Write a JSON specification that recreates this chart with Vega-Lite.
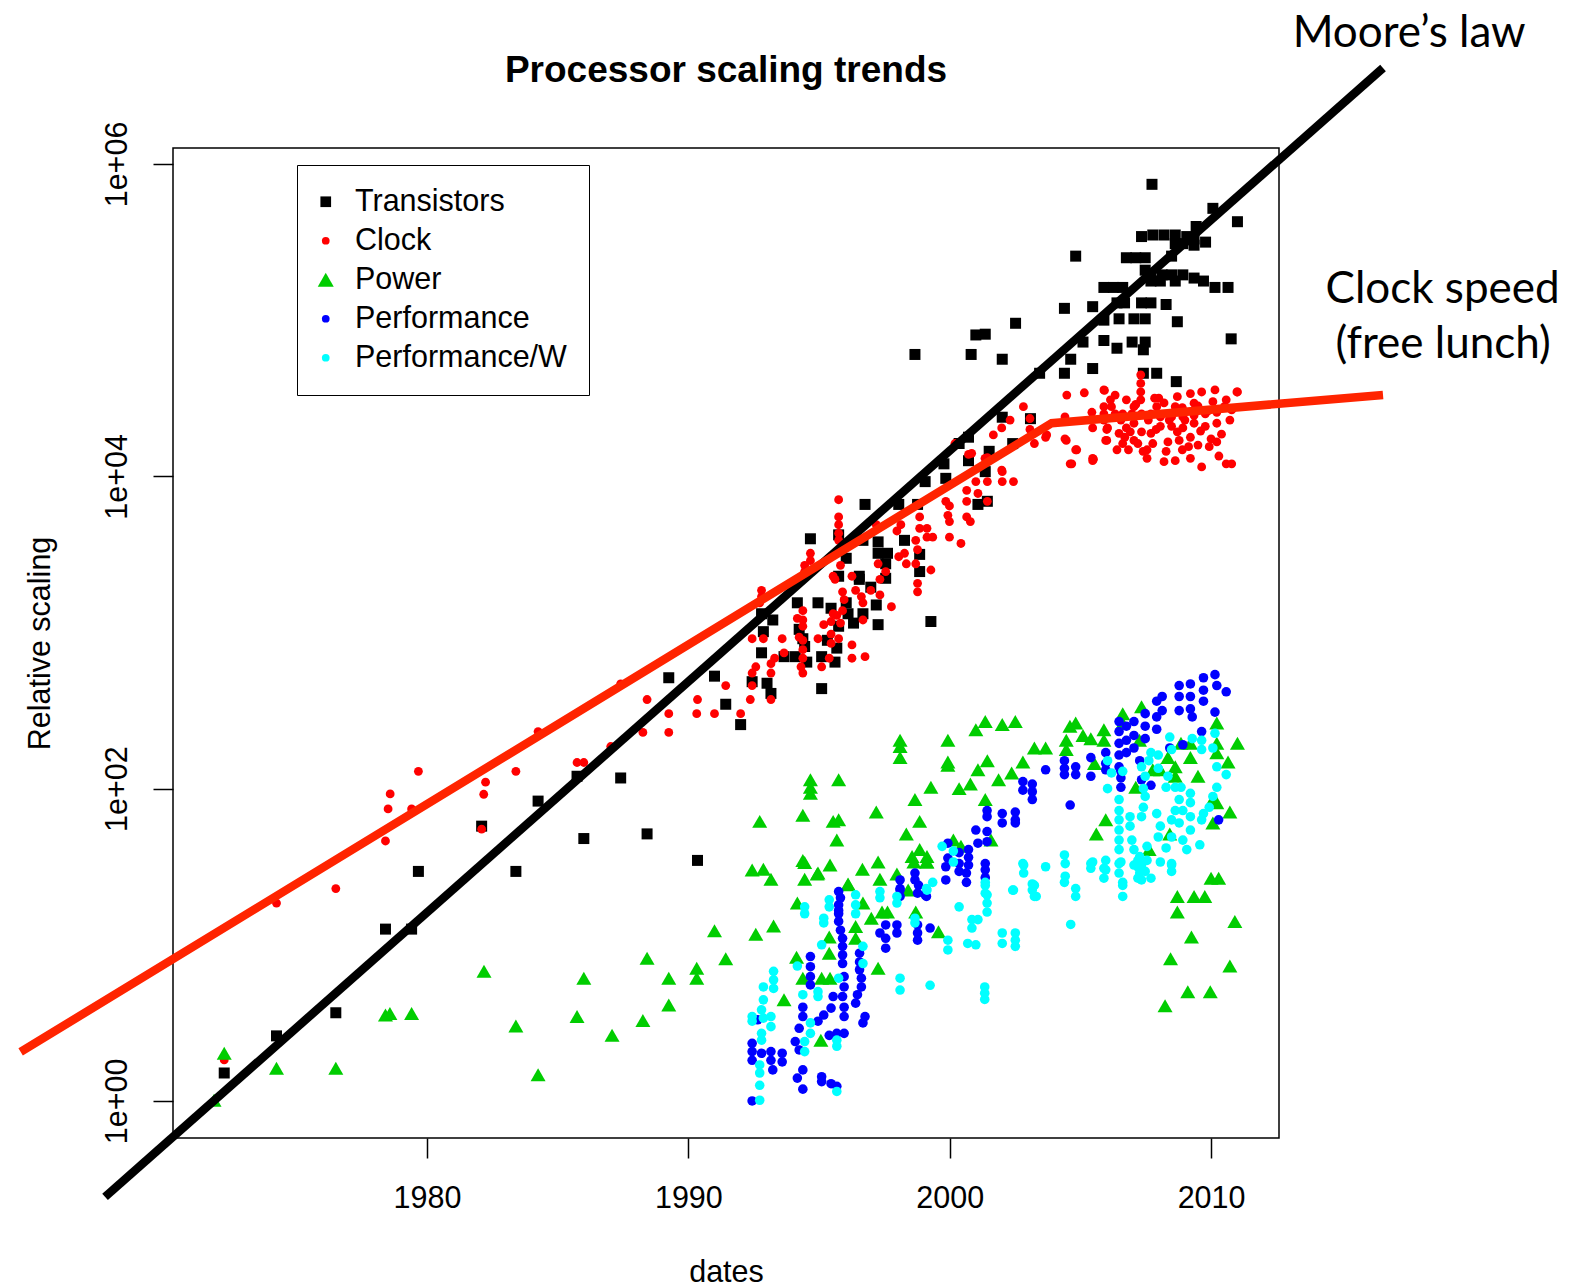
{
"$schema":"https://vega.github.io/schema/vega-lite/v6.json",
"width":1106,"height":990,
"autosize":{"type":"none"},
"padding":{"left":173,"top":148,"right":294,"bottom":149},
"background":"white",
"config":{"view":{"stroke":"black","strokeWidth":1.5},"font":"Liberation Sans"},
"title":{"text":"Processor scaling trends","font":"Liberation Sans","fontSize":37,"fontWeight":"bold","color":"black","anchor":"middle","frame":"group","baseline":"alphabetic","offset":38,"dy":145},
"datasets":{
"moore":[{"x":1967.68,"y":0.243},{"x":2016.58,"y":4120000}],
"clockline":[{"x":1964.45,"y":2.06},{"x":2003.9,"y":21900},{"x":2016.58,"y":33200}],
"notes":[{"x":2017.58,"y":5610000,"label":"Moore’s law"},{"x":2018.86,"y":128200,"label":"Clock speed"},{"x":2018.88,"y":57000,"label":"(free lunch)"}],
"points":[
{"series":"Transistors","x":1972.24,"y":1.51},{"series":"Transistors","x":1974.24,"y":2.61},{"series":"Transistors","x":1976.51,"y":3.67},{"series":"Transistors","x":1978.41,"y":12.6},{"series":"Transistors","x":1979.41,"y":12.6},{"series":"Transistors","x":1979.67,"y":29.5},{"series":"Transistors","x":1982.09,"y":57.5},{"series":"Transistors","x":1983.4,"y":29.5},{"series":"Transistors","x":1984.25,"y":83.2},{"series":"Transistors","x":1986.0,"y":47.9},{"series":"Transistors","x":1985.74,"y":120},{"series":"Transistors","x":1987.41,"y":117},{"series":"Transistors","x":1988.42,"y":51.3},{"series":"Transistors","x":1989.25,"y":513},{"series":"Transistors","x":1990.35,"y":34.7},{"series":"Transistors","x":1991.0,"y":525},{"series":"Transistors","x":1991.43,"y":347},{"series":"Transistors","x":1992.0,"y":257},{"series":"Transistors","x":1992.44,"y":484},{"series":"Transistors","x":1993.01,"y":473},{"series":"Transistors","x":1993.16,"y":407},{"series":"Transistors","x":1995.1,"y":437},{"series":"Transistors","x":1992.8,"y":1318},{"series":"Transistors","x":1993.23,"y":1202},{"series":"Transistors","x":1992.87,"y":1012},{"series":"Transistors","x":1992.8,"y":741},{"series":"Transistors","x":1993.66,"y":700},{"series":"Transistors","x":1994.17,"y":1549},{"series":"Transistors","x":1994.96,"y":1549},{"series":"Transistors","x":1995.46,"y":1429},{"series":"Transistors","x":1996.04,"y":1549},{"series":"Transistors","x":1996.11,"y":1318},{"series":"Transistors","x":1995.75,"y":1096},{"series":"Transistors","x":1994.24,"y":1047},{"series":"Transistors","x":1994.38,"y":912},{"series":"Transistors","x":1994.45,"y":813},{"series":"Transistors","x":1994.09,"y":700},{"series":"Transistors","x":1994.53,"y":646},{"series":"Transistors","x":1995.1,"y":700},{"series":"Transistors","x":1995.61,"y":646},{"series":"Transistors","x":1995.68,"y":794},{"series":"Transistors","x":1995.32,"y":891},{"series":"Transistors","x":1994.67,"y":3981},{"series":"Transistors","x":1996.76,"y":6607},{"series":"Transistors","x":1998.05,"y":6607},{"series":"Transistors","x":1998.77,"y":6607},{"series":"Transistors","x":1999.06,"y":9247},{"series":"Transistors","x":1999.85,"y":9705},{"series":"Transistors","x":1999.78,"y":12020},{"series":"Transistors","x":2000.36,"y":16218},{"series":"Transistors","x":2000.72,"y":12589},{"series":"Transistors","x":2001.51,"y":14454},{"series":"Transistors","x":2001.08,"y":6607},{"series":"Transistors","x":2001.44,"y":6918},{"series":"Transistors","x":2001.36,"y":10715},{"series":"Transistors","x":1995.75,"y":4217},{"series":"Transistors","x":1996.68,"y":3890},{"series":"Transistors","x":1997.26,"y":3802},{"series":"Transistors","x":1997.26,"y":3214},{"series":"Transistors","x":1997.62,"y":3214},{"series":"Transistors","x":1997.55,"y":2754},{"series":"Transistors","x":1998.27,"y":3890},{"series":"Transistors","x":1998.85,"y":3162},{"series":"Transistors","x":1998.85,"y":2455},{"series":"Transistors","x":1997.55,"y":2223},{"series":"Transistors","x":1996.04,"y":2985},{"series":"Transistors","x":1995.75,"y":2291},{"series":"Transistors","x":1996.54,"y":2291},{"series":"Transistors","x":1996.54,"y":2188},{"series":"Transistors","x":1996.98,"y":1950},{"series":"Transistors","x":1997.19,"y":1500},{"series":"Transistors","x":1997.26,"y":1122},{"series":"Transistors","x":1999.28,"y":1175},{"series":"Transistors","x":1996.68,"y":1318},{"series":"Transistors","x":1996.32,"y":1148},
{"series":"Transistors","x":2007.74,"y":741000},{"series":"Transistors","x":2010.07,"y":520000},{"series":"Transistors","x":2011.01,"y":427000},{"series":"Transistors","x":2009.43,"y":398000},{"series":"Transistors","x":2009.35,"y":331000},{"series":"Transistors","x":2009.79,"y":316000},{"series":"Transistors","x":2007.34,"y":343000},{"series":"Transistors","x":2007.77,"y":351000},{"series":"Transistors","x":2008.2,"y":351000},{"series":"Transistors","x":2008.63,"y":351000},{"series":"Transistors","x":2009.07,"y":343000},{"series":"Transistors","x":2008.63,"y":309000},{"series":"Transistors","x":2008.92,"y":309000},{"series":"Transistors","x":2009.35,"y":302000},{"series":"Transistors","x":2004.82,"y":257000},{"series":"Transistors","x":2006.76,"y":251000},{"series":"Transistors","x":2007.12,"y":251000},{"series":"Transistors","x":2007.48,"y":251000},{"series":"Transistors","x":2008.49,"y":257000},{"series":"Transistors","x":2007.48,"y":209000},{"series":"Transistors","x":2007.7,"y":190500},{"series":"Transistors","x":2008.13,"y":195000},{"series":"Transistors","x":2008.49,"y":195000},{"series":"Transistors","x":2008.92,"y":195000},{"series":"Transistors","x":2009.35,"y":186000},{"series":"Transistors","x":2009.71,"y":178000},{"series":"Transistors","x":2010.15,"y":162000},{"series":"Transistors","x":2010.65,"y":162000},{"series":"Transistors","x":2005.9,"y":162000},{"series":"Transistors","x":2006.26,"y":162000},{"series":"Transistors","x":2006.62,"y":162000},{"series":"Transistors","x":2007.7,"y":178000},{"series":"Transistors","x":2008.06,"y":178000},{"series":"Transistors","x":2008.63,"y":178000},{"series":"Transistors","x":2004.39,"y":119000},{"series":"Transistors","x":2005.47,"y":122000},{"series":"Transistors","x":2006.4,"y":129000},{"series":"Transistors","x":2006.69,"y":129000},{"series":"Transistors","x":2007.34,"y":129000},{"series":"Transistors","x":2007.7,"y":129000},{"series":"Transistors","x":2008.28,"y":126000},{"series":"Transistors","x":2005.9,"y":100000},{"series":"Transistors","x":2006.48,"y":102000},{"series":"Transistors","x":2007.05,"y":102000},{"series":"Transistors","x":2007.48,"y":102000},{"series":"Transistors","x":2008.71,"y":97700},{"series":"Transistors","x":2002.52,"y":95500},{"series":"Transistors","x":2001.0,"y":80400},{"series":"Transistors","x":2001.36,"y":81300},{"series":"Transistors","x":2005.1,"y":72400},{"series":"Transistors","x":2005.9,"y":74100},{"series":"Transistors","x":2006.4,"y":66100},{"series":"Transistors","x":2006.98,"y":72400},{"series":"Transistors","x":2007.48,"y":72400},{"series":"Transistors","x":2007.41,"y":64600},{"series":"Transistors","x":2010.77,"y":75900},{"series":"Transistors","x":1998.67,"y":60300},{"series":"Transistors","x":2000.82,"y":60300},{"series":"Transistors","x":2002.01,"y":56200},{"series":"Transistors","x":2004.63,"y":56200},{"series":"Transistors","x":2005.47,"y":49000},{"series":"Transistors","x":2003.44,"y":45700},{"series":"Transistors","x":2004.39,"y":45700},{"series":"Transistors","x":2007.41,"y":45700},{"series":"Transistors","x":2007.92,"y":45700},{"series":"Transistors","x":2008.67,"y":40400},{"series":"Transistors","x":2003.09,"y":23400},{"series":"Transistors","x":2002.01,"y":23900},{"series":"Transistors","x":2000.72,"y":17800},{"series":"Transistors","x":2002.41,"y":16200},
{"series":"Clock","x":1972.24,"y":1.83},{"series":"Clock","x":1974.24,"y":18.5},{"series":"Clock","x":1976.51,"y":22.9},{"series":"Clock","x":1978.41,"y":46.2},{"series":"Clock","x":1978.51,"y":74.1},{"series":"Clock","x":1978.59,"y":92.5},{"series":"Clock","x":1979.41,"y":74.1},{"series":"Clock","x":1979.67,"y":129},{"series":"Clock","x":1982.09,"y":55},{"series":"Clock","x":1982.17,"y":92},{"series":"Clock","x":1982.24,"y":110},{"series":"Clock","x":1983.4,"y":129},{"series":"Clock","x":1984.25,"y":232},{"series":"Clock","x":1985.74,"y":147},{"series":"Clock","x":1986.0,"y":147},{"series":"Clock","x":1987.03,"y":186},{"series":"Clock","x":1987.41,"y":468},{"series":"Clock","x":1988.26,"y":229},{"series":"Clock","x":1988.42,"y":372},{"series":"Clock","x":1989.25,"y":302},{"series":"Clock","x":1989.25,"y":229},{"series":"Clock","x":1990.35,"y":372},{"series":"Clock","x":1990.32,"y":302},{"series":"Clock","x":1991.0,"y":302},{"series":"Clock","x":1991.43,"y":457},{"series":"Clock","x":1992.0,"y":302},{"series":"Clock","x":1992.37,"y":372},{"series":"Clock","x":1993.16,"y":372},{"series":"Clock","x":1992.44,"y":550},{"series":"Clock","x":1993.16,"y":550},{"series":"Clock","x":1994.38,"y":550},{"series":"Clock","x":1995.1,"y":603},
{"series":"Clock","x":1995.75,"y":7079},{"series":"Clock","x":1995.75,"y":5495},{"series":"Clock","x":1995.75,"y":4898},{"series":"Clock","x":1995.75,"y":4315},{"series":"Clock","x":1995.75,"y":3890},{"series":"Clock","x":1994.67,"y":3214},{"series":"Clock","x":1994.67,"y":2884},{"series":"Clock","x":1994.45,"y":2692},{"series":"Clock","x":1994.45,"y":2455},{"series":"Clock","x":1992.8,"y":1862},{"series":"Clock","x":1992.8,"y":1698},{"series":"Clock","x":1992.73,"y":1549},{"series":"Clock","x":1992.44,"y":912},{"series":"Clock","x":1992.87,"y":912},{"series":"Clock","x":1993.59,"y":912},{"series":"Clock","x":1992.44,"y":457},{"series":"Clock","x":1992.58,"y":603},{"series":"Clock","x":1993.16,"y":631},{"series":"Clock","x":1993.3,"y":684},{"series":"Clock","x":1993.66,"y":741},
{"series":"Clock","x":1994.38,"y":1380},{"series":"Clock","x":1994.38,"y":1202},{"series":"Clock","x":1994.17,"y":1230},{"series":"Clock","x":1994.38,"y":1096},{"series":"Clock","x":1994.24,"y":933},{"series":"Clock","x":1994.38,"y":891},{"series":"Clock","x":1994.38,"y":776},{"series":"Clock","x":1994.38,"y":684},{"series":"Clock","x":1994.31,"y":603},{"series":"Clock","x":1994.96,"y":912},{"series":"Clock","x":1995.18,"y":1122},{"series":"Clock","x":1995.46,"y":1175},{"series":"Clock","x":1995.54,"y":1318},{"series":"Clock","x":1995.46,"y":977},{"series":"Clock","x":1995.46,"y":851},{"series":"Clock","x":1995.39,"y":684},{"series":"Clock","x":1995.75,"y":912},{"series":"Clock","x":1995.54,"y":2291},{"series":"Clock","x":1995.61,"y":2188},{"series":"Clock","x":1995.82,"y":2692},{"series":"Clock","x":1995.9,"y":1820},{"series":"Clock","x":1995.96,"y":1622},{"series":"Clock","x":1995.9,"y":1380},{"series":"Clock","x":1995.68,"y":1288},{"series":"Clock","x":1995.82,"y":1148},{"series":"Clock","x":1996.26,"y":2291},{"series":"Clock","x":1996.4,"y":1862},{"series":"Clock","x":1996.62,"y":1698},{"series":"Clock","x":1996.68,"y":1549},{"series":"Clock","x":1996.68,"y":1202},{"series":"Clock","x":1996.26,"y":832},{"series":"Clock","x":1996.26,"y":684},{"series":"Clock","x":1996.76,"y":700},{"series":"Clock","x":1996.98,"y":1862},{"series":"Clock","x":1997.33,"y":2188},{"series":"Clock","x":1997.33,"y":1738},{"series":"Clock","x":1997.77,"y":1462},{"series":"Clock","x":1997.55,"y":2455},{"series":"Clock","x":1997.26,"y":2754},{"series":"Clock","x":1998.05,"y":3055},{"series":"Clock","x":1998.27,"y":3214},{"series":"Clock","x":1998.34,"y":2754},{"series":"Clock","x":1998.7,"y":2754},{"series":"Clock","x":1998.77,"y":3388},{"series":"Clock","x":1998.7,"y":3890},{"series":"Clock","x":1999.28,"y":2512},{"series":"Clock","x":1998.77,"y":2065},{"series":"Clock","x":1998.77,"y":1820},{"series":"Clock","x":1997.98,"y":4467},{"series":"Clock","x":1998.13,"y":4898},{"series":"Clock","x":1998.85,"y":4645},{"series":"Clock","x":1999.13,"y":4645},{"series":"Clock","x":1999.13,"y":4074},{"series":"Clock","x":1999.35,"y":4074},{"series":"Clock","x":1998.85,"y":5495},{"series":"Clock","x":1997.19,"y":4898},{"series":"Clock","x":1999.85,"y":6918},{"series":"Clock","x":1999.99,"y":6457},{"series":"Clock","x":1999.93,"y":5623},{"series":"Clock","x":1999.99,"y":5129},{"series":"Clock","x":1999.99,"y":4074},{"series":"Clock","x":2000.43,"y":3715},{"series":"Clock","x":2000.65,"y":5495},{"series":"Clock","x":2000.79,"y":5129},{"series":"Clock","x":2000.65,"y":6918},{"series":"Clock","x":2000.65,"y":8128},{"series":"Clock","x":2001.08,"y":7762},{"series":"Clock","x":2001.44,"y":6918},{"series":"Clock","x":2001.0,"y":9247},{"series":"Clock","x":2001.44,"y":9247},{"series":"Clock","x":2002.01,"y":9247},{"series":"Clock","x":2002.44,"y":9247},{"series":"Clock","x":2002.01,"y":10715},{"series":"Clock","x":2000.72,"y":13804},{"series":"Clock","x":2001.44,"y":13183},{"series":"Clock","x":2003.24,"y":16218},{"series":"Clock","x":2004.46,"y":16982},{"series":"Clock","x":2004.82,"y":14791},{"series":"Clock","x":2005.47,"y":12589},{"series":"Clock","x":2004.61,"y":12023},
{"series":"Clock","x":2004.48,"y":33113},{"series":"Clock","x":2005.15,"y":34277},{"series":"Clock","x":2005.92,"y":35481},{"series":"Clock","x":2007.31,"y":44668},{"series":"Clock","x":2007.31,"y":39355},{"series":"Clock","x":2007.31,"y":34674},{"series":"Clock","x":2007.31,"y":30903},{"series":"Clock","x":2010.99,"y":34674},{"series":"Clock","x":2002.82,"y":27925},{"series":"Clock","x":2002.31,"y":22909},{"series":"Clock","x":2001.99,"y":20417},{"series":"Clock","x":2001.67,"y":18408},{"series":"Clock","x":2003.07,"y":23442},{"series":"Clock","x":2003.07,"y":19953},{"series":"Clock","x":2003.71,"y":18408},{"series":"Clock","x":2004.41,"y":23988},{"series":"Clock","x":2004.41,"y":17378},{"series":"Clock","x":2000.84,"y":14028},{"series":"Clock","x":2001.35,"y":13032},{"series":"Clock","x":2001.99,"y":10965},{"series":"Clock","x":2000.2,"y":16218},{"series":"Clock","x":2004.86,"y":14791},{"series":"Clock","x":2005.5,"y":12882},{"series":"Clock","x":2006.01,"y":19953},{"series":"Clock","x":2006.01,"y":16982},{"series":"Clock","x":2005.44,"y":25704},{"series":"Clock","x":2004.67,"y":12023},
{"series":"Clock","x":2005.9,"y":35727},{"series":"Clock","x":2006.33,"y":33113},{"series":"Clock","x":2006.76,"y":30903},{"series":"Clock","x":2007.12,"y":28840},{"series":"Clock","x":2007.84,"y":31623},{"series":"Clock","x":2008.2,"y":29512},{"series":"Clock","x":2008.71,"y":32359},{"series":"Clock","x":2009.21,"y":33884},{"series":"Clock","x":2009.64,"y":34674},{"series":"Clock","x":2010.15,"y":35727},{"series":"Clock","x":2011.01,"y":34674},{"series":"Clock","x":2010.58,"y":30903},{"series":"Clock","x":2010.79,"y":26607},{"series":"Clock","x":2010.72,"y":22909},{"series":"Clock","x":2010.22,"y":16596},{"series":"Clock","x":2009.93,"y":15488},{"series":"Clock","x":2009.14,"y":15488},{"series":"Clock","x":2008.71,"y":19275},{"series":"Clock","x":2008.35,"y":16596},{"series":"Clock","x":2008.28,"y":14454},{"series":"Clock","x":2008.63,"y":12589},{"series":"Clock","x":2008.2,"y":12417},{"series":"Clock","x":2007.55,"y":13032},{"series":"Clock","x":2007.55,"y":14791},{"series":"Clock","x":2006.84,"y":14791},{"series":"Clock","x":2006.4,"y":14791},{"series":"Clock","x":2005.97,"y":16982},{"series":"Clock","x":2005.47,"y":20417},{"series":"Clock","x":2006.04,"y":20417},{"series":"Clock","x":2006.76,"y":20417},{"series":"Clock","x":2007.05,"y":21878},{"series":"Clock","x":2007.7,"y":18836},{"series":"Clock","x":2007.05,"y":16982},{"series":"Clock","x":2010.79,"y":12023},{"series":"Clock","x":2010.58,"y":12023},{"series":"Clock","x":2009.21,"y":13032},{"series":"Clock","x":2009.64,"y":11482},{"series":"Clock","x":2005.47,"y":13032},{"series":"Clock","x":2005.9,"y":27925},{"series":"Clock","x":2005.9,"y":25119},{"series":"Clock","x":2005.9,"y":22909},
{"series":"Clock","x":2006.33,"y":25119},{"series":"Clock","x":2006.62,"y":25119},{"series":"Clock","x":2006.97,"y":25119},{"series":"Clock","x":2007.34,"y":25119},{"series":"Clock","x":2007.7,"y":25119},{"series":"Clock","x":2008.06,"y":23988},{"series":"Clock","x":2008.49,"y":23988},{"series":"Clock","x":2008.92,"y":23988},{"series":"Clock","x":2009.35,"y":24547},{"series":"Clock","x":2009.78,"y":25119},{"series":"Clock","x":2010.22,"y":25704},
{"series":"Clock","x":2006.48,"y":18836},{"series":"Clock","x":2006.91,"y":19275},{"series":"Clock","x":2007.34,"y":19275},{"series":"Clock","x":2008.06,"y":20893},{"series":"Clock","x":2008.49,"y":20893},{"series":"Clock","x":2008.92,"y":20417},{"series":"Clock","x":2009.35,"y":21878},{"series":"Clock","x":2009.78,"y":20893},{"series":"Clock","x":2010.22,"y":21878},
{"series":"Clock","x":2006.62,"y":16218},{"series":"Clock","x":2007.2,"y":16218},{"series":"Clock","x":2007.77,"y":16218},{"series":"Clock","x":2008.78,"y":16982},{"series":"Clock","x":2009.21,"y":17783},{"series":"Clock","x":2010.0,"y":17378},
{"series":"Clock","x":2006.19,"y":27925},{"series":"Clock","x":2007.05,"y":27925},{"series":"Clock","x":2007.92,"y":27925},{"series":"Clock","x":2008.63,"y":27925},{"series":"Clock","x":2009.35,"y":29376},{"series":"Clock","x":2010.07,"y":30061},{"series":"Clock","x":2010.51,"y":27925},
{"series":"Clock","x":2006.15,"y":30903},{"series":"Clock","x":2006.55,"y":22909},{"series":"Clock","x":2007.6,"y":22909},{"series":"Clock","x":2008.4,"y":22909},{"series":"Clock","x":2009.0,"y":22909},{"series":"Clock","x":2009.5,"y":28184},{"series":"Clock","x":2009.9,"y":26303},{"series":"Clock","x":2008.0,"y":31623},{"series":"Clock","x":2008.9,"y":27542},{"series":"Clock","x":2007.9,"y":19953},{"series":"Clock","x":2009.6,"y":19498},{"series":"Clock","x":2010.4,"y":18621},{"series":"Clock","x":2006.7,"y":17783},{"series":"Clock","x":2007.4,"y":14454},{"series":"Clock","x":2008.9,"y":14791},{"series":"Clock","x":2009.5,"y":15849},{"series":"Clock","x":2010.3,"y":13490},{"series":"Clock","x":2003.67,"y":17783},
{"series":"Power","x":1971.85,"y":1.01},{"series":"Power","x":1972.24,"y":2.02},{"series":"Power","x":1974.24,"y":1.62},{"series":"Power","x":1976.51,"y":1.62},{"series":"Power","x":1978.41,"y":3.55},{"series":"Power","x":1978.58,"y":3.63},{"series":"Power","x":1979.41,"y":3.63},{"series":"Power","x":1982.18,"y":6.76},{"series":"Power","x":1983.4,"y":3.02},{"series":"Power","x":1984.25,"y":1.47},{"series":"Power","x":1986.0,"y":6.11},{"series":"Power","x":1985.74,"y":3.47},{"series":"Power","x":1987.08,"y":2.63},{"series":"Power","x":1988.26,"y":3.27},{"series":"Power","x":1988.42,"y":8.2},{"series":"Power","x":1989.25,"y":6.11},{"series":"Power","x":1989.25,"y":4.12},{"series":"Power","x":1990.32,"y":7.08},{"series":"Power","x":1990.32,"y":6.11},
{"series":"Power","x":1992.44,"y":30.1},{"series":"Power","x":1992.87,"y":30.5},{"series":"Power","x":1993.16,"y":26.3},{"series":"Power","x":1994.45,"y":33.6},{"series":"Power","x":1994.45,"y":26.3},{"series":"Power","x":1994.93,"y":28.4},{"series":"Power","x":1995.42,"y":32.4},{"series":"Power","x":1996.66,"y":30.5},{"series":"Power","x":1997.26,"y":33.9},{"series":"Power","x":1997.33,"y":26.3},{"series":"Power","x":1996.11,"y":24.2},{"series":"Power","x":1997.98,"y":28.4},{"series":"Power","x":1998.63,"y":33.9},{"series":"Power","x":1999.11,"y":33.9},{"series":"Power","x":1991.0,"y":12.3},{"series":"Power","x":1992.58,"y":11.7},{"series":"Power","x":1993.26,"y":13.2},{"series":"Power","x":1991.43,"y":8.13},{"series":"Power","x":1994.17,"y":18.5},{"series":"Power","x":1994.14,"y":8.32},{"series":"Power","x":1993.66,"y":4.44},{"series":"Power","x":1994.38,"y":6.11},{"series":"Power","x":1995.1,"y":6.11},{"series":"Power","x":1995.42,"y":6.11},{"series":"Power","x":1995.07,"y":2.45},{"series":"Power","x":1996.68,"y":18.5},{"series":"Power","x":1997.0,"y":14.8},{"series":"Power","x":1996.4,"y":13.1},{"series":"Power","x":1996.4,"y":11.0},{"series":"Power","x":1995.39,"y":11.2},{"series":"Power","x":1995.39,"y":8.83},{"series":"Power","x":1997.26,"y":7.08},{"series":"Power","x":1997.41,"y":16.2},{"series":"Power","x":1997.62,"y":16.2},{"series":"Power","x":1998.7,"y":16.2},{"series":"Power","x":1999.57,"y":12.1},{"series":"Power","x":1998.41,"y":22.4},{"series":"Power","x":2010.0,"y":26.7},{"series":"Power","x":2010.29,"y":26.7},{"series":"Power","x":2008.71,"y":20.4},{"series":"Power","x":2009.35,"y":20.4},{"series":"Power","x":2009.76,"y":20.4},{"series":"Power","x":2008.71,"y":16.2},{"series":"Power","x":2010.91,"y":14.1},{"series":"Power","x":2009.25,"y":11.2},{"series":"Power","x":2008.45,"y":8.13},{"series":"Power","x":2010.72,"y":7.31},{"series":"Power","x":2009.11,"y":5.01},{"series":"Power","x":2009.97,"y":5.01},{"series":"Power","x":2008.24,"y":4.07},
{"series":"Power","x":1998.1,"y":204},{"series":"Power","x":1998.1,"y":186},{"series":"Power","x":1998.1,"y":158},{"series":"Power","x":1999.93,"y":204},{"series":"Power","x":1999.93,"y":148},{"series":"Power","x":1999.93,"y":141},{"series":"Power","x":2001.36,"y":269},{"series":"Power","x":2001.0,"y":238},{"series":"Power","x":2002.01,"y":257},{"series":"Power","x":2002.51,"y":269},{"series":"Power","x":1994.67,"y":114},{"series":"Power","x":1994.67,"y":102},{"series":"Power","x":1994.67,"y":93.3},{"series":"Power","x":1995.75,"y":114},{"series":"Power","x":1992.73,"y":61.7},{"series":"Power","x":1994.38,"y":67.6},{"series":"Power","x":1995.54,"y":61.7},{"series":"Power","x":1995.75,"y":63.1},{"series":"Power","x":1995.68,"y":46.8},{"series":"Power","x":1997.19,"y":70.8},{"series":"Power","x":1998.85,"y":61.7},{"series":"Power","x":1998.34,"y":51.3},{"series":"Power","x":1998.67,"y":85.1},{"series":"Power","x":1999.28,"y":102},{"series":"Power","x":2000.36,"y":100},{"series":"Power","x":2000.79,"y":107},{"series":"Power","x":2001.44,"y":151},{"series":"Power","x":2001.08,"y":132},{"series":"Power","x":2001.87,"y":114},{"series":"Power","x":2002.37,"y":126},{"series":"Power","x":2001.36,"y":85.1},{"series":"Power","x":2002.8,"y":148},{"series":"Power","x":2003.24,"y":182},{"series":"Power","x":2003.67,"y":182},{"series":"Power","x":2004.46,"y":204},{"series":"Power","x":2004.46,"y":178},{"series":"Power","x":2004.6,"y":251},{"series":"Power","x":2004.82,"y":263},{"series":"Power","x":2005.1,"y":219},{"series":"Power","x":2005.4,"y":209},{"series":"Power","x":2005.54,"y":145},{"series":"Power","x":2005.9,"y":238},{"series":"Power","x":2005.9,"y":204},{"series":"Power","x":2006.62,"y":302},{"series":"Power","x":2006.62,"y":263},{"series":"Power","x":2007.34,"y":335},{"series":"Power","x":2007.12,"y":102},{"series":"Power","x":2005.97,"y":63.1},{"series":"Power","x":2005.61,"y":51.3},{"series":"Power","x":2007.63,"y":40.7},{"series":"Power","x":2008.42,"y":51.3},{"series":"Power","x":2010.22,"y":263},{"series":"Power","x":2011.01,"y":195},{"series":"Power","x":2010.65,"y":148},{"series":"Power","x":2010.22,"y":195},{"series":"Power","x":2010.22,"y":170},{"series":"Power","x":2009.21,"y":195},{"series":"Power","x":2009.21,"y":158},{"series":"Power","x":2008.63,"y":138},{"series":"Power","x":2008.63,"y":120},{"series":"Power","x":2010.07,"y":85.1},{"series":"Power","x":2010.22,"y":81.3},{"series":"Power","x":2010.72,"y":70.8},{"series":"Power","x":2010.07,"y":60.3},{"series":"Power","x":2008.85,"y":195},{"series":"Power","x":2007.77,"y":132},{"series":"Power","x":2008.06,"y":132},{"series":"Power","x":2007.26,"y":204},{"series":"Power","x":2008.35,"y":158},{"series":"Power","x":2009.5,"y":120},{"series":"Power","x":1994.38,"y":34.7},{"series":"Power","x":1994.96,"y":28.8},{"series":"Power","x":1998.56,"y":36.7},{"series":"Power","x":1998.85,"y":40.7},{"series":"Power","x":1999.13,"y":36.7},{"series":"Power","x":1999.13,"y":33.9},{"series":"Power","x":2000.14,"y":46.8},{"series":"Power","x":2000.43,"y":42.7},{"series":"Power","x":2001.58,"y":46.8},{"series":"Power","x":1996.11,"y":24.5},
{"series":"Performance","x":2010.15,"y":537},{"series":"Performance","x":2010.22,"y":457},{"series":"Performance","x":2009.71,"y":513},{"series":"Performance","x":2009.71,"y":427},{"series":"Performance","x":2009.71,"y":363},{"series":"Performance","x":2009.21,"y":468},{"series":"Performance","x":2009.21,"y":389},{"series":"Performance","x":2009.21,"y":324},{"series":"Performance","x":2008.78,"y":457},{"series":"Performance","x":2008.78,"y":389},{"series":"Performance","x":2008.78,"y":316},{"series":"Performance","x":2010.58,"y":417},{"series":"Performance","x":2010.15,"y":309},{"series":"Performance","x":2008.13,"y":389},{"series":"Performance","x":2008.13,"y":316},{"series":"Performance","x":2007.92,"y":363},{"series":"Performance","x":2007.92,"y":288},{"series":"Performance","x":2007.92,"y":240},{"series":"Performance","x":2007.48,"y":302},{"series":"Performance","x":2007.48,"y":251},{"series":"Performance","x":2007.48,"y":209},{"series":"Performance","x":2007.05,"y":269},{"series":"Performance","x":2007.05,"y":219},{"series":"Performance","x":2007.05,"y":182},{"series":"Performance","x":2006.48,"y":269},{"series":"Performance","x":2006.48,"y":232},{"series":"Performance","x":2006.48,"y":195},{"series":"Performance","x":2006.48,"y":164},{"series":"Performance","x":2006.48,"y":138},{"series":"Performance","x":2006.76,"y":251},{"series":"Performance","x":2006.76,"y":204},{"series":"Performance","x":2006.76,"y":170},{"series":"Performance","x":2007.27,"y":151},{"series":"Performance","x":2008.42,"y":182},{"series":"Performance","x":2008.92,"y":191},{"series":"Performance","x":2009.28,"y":288},{"series":"Performance","x":2009.64,"y":232},{"series":"Performance","x":2005.97,"y":170},{"series":"Performance","x":2005.97,"y":145},{"series":"Performance","x":2005.97,"y":132},{"series":"Performance","x":2005.4,"y":158},{"series":"Performance","x":2005.4,"y":120},{"series":"Performance","x":2004.82,"y":138},{"series":"Performance","x":2004.82,"y":123},{"series":"Performance","x":2004.39,"y":151},{"series":"Performance","x":2004.39,"y":135},{"series":"Performance","x":2004.39,"y":123},{"series":"Performance","x":2003.67,"y":132},{"series":"Performance","x":2004.61,"y":78.5},{"series":"Performance","x":2006.55,"y":129},{"series":"Performance","x":2006.55,"y":117},{"series":"Performance","x":2006.55,"y":102},{"series":"Performance","x":2007.34,"y":114},{"series":"Performance","x":2007.7,"y":105},{"series":"Performance","x":2010.29,"y":63.1},{"series":"Performance","x":2002.8,"y":111},{"series":"Performance","x":2002.8,"y":97.7},{"series":"Performance","x":2003.16,"y":107},{"series":"Performance","x":2003.16,"y":95.5},{"series":"Performance","x":2003.16,"y":85.1},{"series":"Performance","x":2001.43,"y":72.4},{"series":"Performance","x":2001.43,"y":66.1},{"series":"Performance","x":2002.01,"y":69.2},{"series":"Performance","x":2002.01,"y":60.3},{"series":"Performance","x":2002.51,"y":70.8},{"series":"Performance","x":2002.51,"y":63.1},{"series":"Performance","x":2002.51,"y":60.3},{"series":"Performance","x":2001.0,"y":54.3},{"series":"Performance","x":2001.43,"y":53.1},{"series":"Performance","x":2001.43,"y":45.7},{"series":"Performance","x":2001.08,"y":44.7},{"series":"Performance","x":2000.72,"y":40.7},{"series":"Performance","x":2000.72,"y":36.3},{"series":"Performance","x":2000.72,"y":32.4},{"series":"Performance","x":2000.64,"y":28.8},{"series":"Performance","x":2000.64,"y":25.1},{"series":"Performance","x":2001.36,"y":33.1},{"series":"Performance","x":2001.36,"y":30.2},{"series":"Performance","x":2001.36,"y":26.9},{"series":"Performance","x":2000.36,"y":38.9},{"series":"Performance","x":2000.36,"y":33.1},{"series":"Performance","x":2000.36,"y":29.5},{"series":"Performance","x":1999.93,"y":44.7},{"series":"Performance","x":1999.93,"y":35.9},{"series":"Performance","x":1999.85,"y":31.6},{"series":"Performance","x":1999.85,"y":26.0},{"series":"Performance","x":1998.67,"y":28.8},{"series":"Performance","x":1998.67,"y":26.0},{"series":"Performance","x":1998.1,"y":26.0},{"series":"Performance","x":1998.1,"y":22.4},{"series":"Performance","x":1999.06,"y":20.9},{"series":"Performance","x":1995.75,"y":21.9},
{"series":"Performance","x":1998.81,"y":24.0},{"series":"Performance","x":1998.77,"y":21.4},{"series":"Performance","x":1999.11,"y":20.4},{"series":"Performance","x":1998.1,"y":22.9},{"series":"Performance","x":1998.1,"y":20.4},{"series":"Performance","x":1999.25,"y":12.8},{"series":"Performance","x":1998.77,"y":13.4},{"series":"Performance","x":1998.77,"y":11.9},{"series":"Performance","x":1998.77,"y":10.7},{"series":"Performance","x":1997.98,"y":13.4},{"series":"Performance","x":1997.98,"y":11.9},{"series":"Performance","x":1997.55,"y":13.4},{"series":"Performance","x":1997.33,"y":11.9},{"series":"Performance","x":1997.55,"y":11.0},{"series":"Performance","x":1997.55,"y":9.51},{"series":"Performance","x":1995.75,"y":18.0},{"series":"Performance","x":1995.75,"y":15.8},{"series":"Performance","x":1995.75,"y":14.1},{"series":"Performance","x":1995.82,"y":12.4},{"series":"Performance","x":1995.9,"y":11.0},{"series":"Performance","x":1995.9,"y":9.77},{"series":"Performance","x":1995.9,"y":8.61},{"series":"Performance","x":1995.9,"y":7.59},{"series":"Performance","x":1995.96,"y":6.25},{"series":"Performance","x":1995.96,"y":5.37},{"series":"Performance","x":1995.9,"y":4.66},{"series":"Performance","x":1995.96,"y":3.98},{"series":"Performance","x":1995.96,"y":3.47},{"series":"Performance","x":1996.55,"y":8.83},{"series":"Performance","x":1996.55,"y":7.76},{"series":"Performance","x":1996.55,"y":6.92},{"series":"Performance","x":1996.62,"y":6.11},{"series":"Performance","x":1996.62,"y":5.37},{"series":"Performance","x":1996.47,"y":4.79},{"series":"Performance","x":1996.4,"y":4.23},{"series":"Performance","x":1996.76,"y":3.47},{"series":"Performance","x":1996.68,"y":3.16},{"series":"Performance","x":1994.67,"y":8.41},{"series":"Performance","x":1994.67,"y":7.24},{"series":"Performance","x":1994.67,"y":6.25},{"series":"Performance","x":1994.67,"y":5.53},{"series":"Performance","x":1995.54,"y":4.66},{"series":"Performance","x":1995.46,"y":3.93},{"series":"Performance","x":1995.18,"y":3.55},{"series":"Performance","x":1994.96,"y":3.24},{"series":"Performance","x":1994.38,"y":3.98},{"series":"Performance","x":1994.38,"y":3.47},{"series":"Performance","x":1994.24,"y":2.92},{"series":"Performance","x":1995.39,"y":2.63},{"series":"Performance","x":1995.68,"y":2.71},{"series":"Performance","x":1995.96,"y":2.71},{"series":"Performance","x":1994.09,"y":2.4},{"series":"Performance","x":1994.24,"y":2.12},{"series":"Performance","x":1994.38,"y":1.58},{"series":"Performance","x":1994.17,"y":1.4},{"series":"Performance","x":1994.38,"y":1.19},{"series":"Performance","x":1995.1,"y":1.43},{"series":"Performance","x":1995.1,"y":1.33},{"series":"Performance","x":1995.46,"y":1.29},{"series":"Performance","x":1995.68,"y":1.24},{"series":"Performance","x":1992.44,"y":2.34},{"series":"Performance","x":1992.44,"y":2.07},{"series":"Performance","x":1992.44,"y":1.82},{"series":"Performance","x":1992.65,"y":3.31},{"series":"Performance","x":1992.8,"y":2.02},{"series":"Performance","x":1993.16,"y":2.07},{"series":"Performance","x":1993.16,"y":1.82},{"series":"Performance","x":1993.23,"y":1.58},{"series":"Performance","x":1993.59,"y":2.02},{"series":"Performance","x":1993.59,"y":1.78},{"series":"Performance","x":1992.44,"y":1.0},{"series":"Performance","x":1995.82,"y":20.0},{"series":"Performance","x":1995.75,"y":16.6},
{"series":"Performance/W","x":1992.73,"y":1.01},{"series":"Performance/W","x":1992.73,"y":1.26},{"series":"Performance/W","x":1992.73,"y":1.51},{"series":"Performance/W","x":1992.73,"y":1.7},{"series":"Performance/W","x":1992.8,"y":2.45},{"series":"Performance/W","x":1992.8,"y":2.71},{"series":"Performance/W","x":1992.87,"y":3.39},{"series":"Performance/W","x":1992.8,"y":3.83},{"series":"Performance/W","x":1992.87,"y":4.44},{"series":"Performance/W","x":1992.87,"y":5.37},{"series":"Performance/W","x":1992.44,"y":3.47},{"series":"Performance/W","x":1992.44,"y":3.24},{"series":"Performance/W","x":1993.16,"y":3.47},{"series":"Performance/W","x":1993.16,"y":2.99},{"series":"Performance/W","x":1993.26,"y":6.76},{"series":"Performance/W","x":1993.26,"y":5.96},{"series":"Performance/W","x":1993.26,"y":5.25},{"series":"Performance/W","x":1994.45,"y":17.5},{"series":"Performance/W","x":1994.45,"y":15.8},{"series":"Performance/W","x":1995.18,"y":14.8},{"series":"Performance/W","x":1995.18,"y":13.8},{"series":"Performance/W","x":1995.39,"y":19.4},{"series":"Performance/W","x":1995.39,"y":17.5},{"series":"Performance/W","x":1996.4,"y":20.9},{"series":"Performance/W","x":1996.4,"y":18.0},{"series":"Performance/W","x":1996.4,"y":15.8},{"series":"Performance/W","x":1997.33,"y":21.9},{"series":"Performance/W","x":1997.33,"y":20.0},{"series":"Performance/W","x":1997.98,"y":20.4},{"series":"Performance/W","x":1997.98,"y":18.5},{"series":"Performance/W","x":1998.67,"y":14.8},{"series":"Performance/W","x":1998.67,"y":13.8},{"series":"Performance/W","x":1999.11,"y":22.9},{"series":"Performance/W","x":1999.35,"y":25.1},{"series":"Performance/W","x":1995.1,"y":10.0},{"series":"Performance/W","x":1994.17,"y":7.31},{"series":"Performance/W","x":1994.38,"y":4.79},{"series":"Performance/W","x":1994.96,"y":5.01},{"series":"Performance/W","x":1994.96,"y":4.66},{"series":"Performance/W","x":1995.75,"y":6.11},{"series":"Performance/W","x":1996.68,"y":9.77},{"series":"Performance/W","x":1996.68,"y":7.59},{"series":"Performance/W","x":1994.67,"y":3.16},{"series":"Performance/W","x":1994.67,"y":2.71},{"series":"Performance/W","x":1994.45,"y":2.4},{"series":"Performance/W","x":1994.45,"y":2.07},{"series":"Performance/W","x":1995.68,"y":2.45},{"series":"Performance/W","x":1995.68,"y":2.24},{"series":"Performance/W","x":1995.68,"y":1.15},{"series":"Performance/W","x":1998.1,"y":6.11},{"series":"Performance/W","x":1998.1,"y":5.13},{"series":"Performance/W","x":1999.25,"y":5.5},{"series":"Performance/W","x":1999.93,"y":10.7},{"series":"Performance/W","x":1999.93,"y":9.27},{"series":"Performance/W","x":2000.36,"y":17.5},{"series":"Performance/W","x":2000.85,"y":14.5},{"series":"Performance/W","x":2001.08,"y":14.5},{"series":"Performance/W","x":2000.85,"y":12.8},{"series":"Performance/W","x":2000.69,"y":10.2},{"series":"Performance/W","x":2001.0,"y":10.0},{"series":"Performance/W","x":2001.36,"y":24.0},{"series":"Performance/W","x":2001.36,"y":21.4},{"series":"Performance/W","x":2001.43,"y":18.5},{"series":"Performance/W","x":2001.43,"y":16.2},{"series":"Performance/W","x":2001.34,"y":5.37},{"series":"Performance/W","x":2001.34,"y":4.9},{"series":"Performance/W","x":2001.34,"y":4.47},{"series":"Performance/W","x":2002.01,"y":11.9},{"series":"Performance/W","x":2002.01,"y":10.2},{"series":"Performance/W","x":2002.51,"y":11.9},{"series":"Performance/W","x":2002.51,"y":10.7},{"series":"Performance/W","x":2002.51,"y":9.77},{"series":"Performance/W","x":2002.41,"y":22.4},{"series":"Performance/W","x":2002.83,"y":32.4},{"series":"Performance/W","x":2002.83,"y":28.8},{"series":"Performance/W","x":2003.67,"y":31.6},{"series":"Performance/W","x":2003.24,"y":24.0},{"series":"Performance/W","x":2003.24,"y":20.4},{"series":"Performance/W","x":2004.63,"y":13.5},{"series":"Performance/W","x":2004.42,"y":33.1},{"series":"Performance/W","x":2004.42,"y":27.5},{"series":"Performance/W","x":2004.82,"y":22.9},{"series":"Performance/W","x":2004.82,"y":20.4},{"series":"Performance/W","x":2005.4,"y":33.1},{"series":"Performance/W","x":2005.4,"y":30.9},{"series":"Performance/W","x":2005.9,"y":30.9},{"series":"Performance/W","x":2005.9,"y":26.7},{"series":"Performance/W","x":2006.48,"y":33.1},{"series":"Performance/W","x":2006.48,"y":28.8},{"series":"Performance/W","x":2006.62,"y":24.0},{"series":"Performance/W","x":2006.62,"y":20.4},{"series":"Performance/W","x":2007.2,"y":31.6},{"series":"Performance/W","x":2007.34,"y":26.0},{"series":"Performance/W","x":2008.49,"y":32.4},{"series":"Performance/W","x":2008.49,"y":29.5},{"series":"Performance/W","x":2007.55,"y":34.7},
{"series":"Performance/W","x":2008.42,"y":214},{"series":"Performance/W","x":2009.28,"y":209},{"series":"Performance/W","x":2009.64,"y":204},{"series":"Performance/W","x":2010.15,"y":226},{"series":"Performance/W","x":2008.49,"y":178},{"series":"Performance/W","x":2009.64,"y":178},{"series":"Performance/W","x":2010.07,"y":182},{"series":"Performance/W","x":2010.22,"y":138},{"series":"Performance/W","x":2010.58,"y":123},{"series":"Performance/W","x":2010.22,"y":102},{"series":"Performance/W","x":2010.07,"y":89.1},{"series":"Performance/W","x":2009.93,"y":75.9},{"series":"Performance/W","x":2009.71,"y":69.2},{"series":"Performance/W","x":2009.64,"y":63.1},{"series":"Performance/W","x":2007.62,"y":151},{"series":"Performance/W","x":2007.98,"y":164},{"series":"Performance/W","x":2007.98,"y":135},{"series":"Performance/W","x":2008.35,"y":120},{"series":"Performance/W","x":2008.28,"y":102},{"series":"Performance/W","x":2008.63,"y":102},{"series":"Performance/W","x":2008.85,"y":102},{"series":"Performance/W","x":2008.78,"y":85.1},{"series":"Performance/W","x":2008.92,"y":72.4},{"series":"Performance/W","x":2009.21,"y":66.1},{"series":"Performance/W","x":2008.78,"y":60.3},{"series":"Performance/W","x":2007.34,"y":138},{"series":"Performance/W","x":2007.48,"y":120},{"series":"Performance/W","x":2007.41,"y":100},{"series":"Performance/W","x":2007.48,"y":89.1},{"series":"Performance/W","x":2007.41,"y":75.9},{"series":"Performance/W","x":2007.34,"y":66.1},{"series":"Performance/W","x":2006.48,"y":85.1},{"series":"Performance/W","x":2006.48,"y":72.4},{"series":"Performance/W","x":2006.48,"y":63.1},{"series":"Performance/W","x":2006.48,"y":54.3},{"series":"Performance/W","x":2006.48,"y":46.8},{"series":"Performance/W","x":2006.48,"y":40.7},{"series":"Performance/W","x":2006.9,"y":66.1},{"series":"Performance/W","x":2006.9,"y":57.5},{"series":"Performance/W","x":2006.97,"y":46.8},{"series":"Performance/W","x":2007.05,"y":40.7},{"series":"Performance/W","x":2007.2,"y":34.7},{"series":"Performance/W","x":2006.04,"y":100},{"series":"Performance/W","x":2006.62,"y":129},{"series":"Performance/W","x":2007.55,"y":42.7},{"series":"Performance/W","x":2007.27,"y":36.7},{"series":"Performance/W","x":2007.34,"y":32.4},{"series":"Performance/W","x":2007.48,"y":29.5},{"series":"Performance/W","x":2007.2,"y":26.7},{"series":"Performance/W","x":2008.28,"y":41.7},{"series":"Performance/W","x":2008.49,"y":49.0},{"series":"Performance/W","x":2008.92,"y":46.8},{"series":"Performance/W","x":2009.21,"y":54.3},{"series":"Performance/W","x":2009.07,"y":40.7},{"series":"Performance/W","x":2009.57,"y":43.7},{"series":"Performance/W","x":2009.21,"y":93.3},{"series":"Performance/W","x":2009.21,"y":81.3},{"series":"Performance/W","x":2008.63,"y":72.4},{"series":"Performance/W","x":2008.49,"y":63.1},{"series":"Performance/W","x":2007.92,"y":69.2},{"series":"Performance/W","x":2008.06,"y":57.5},{"series":"Performance/W","x":2007.98,"y":49.0},{"series":"Performance/W","x":2007.7,"y":170},{"series":"Performance/W","x":2006.04,"y":151},{"series":"Performance/W","x":2006.19,"y":126},{"series":"Performance/W","x":2004.39,"y":37.6},{"series":"Performance/W","x":2004.39,"y":25.1},{"series":"Performance/W","x":2005.47,"y":33.9},{"series":"Performance/W","x":2005.97,"y":34.7},{"series":"Performance/W","x":2005.97,"y":30.2},{"series":"Performance/W","x":2006.55,"y":33.9},{"series":"Performance/W","x":2006.62,"y":25.1},{"series":"Performance/W","x":2002.8,"y":33.1},{"series":"Performance/W","x":2003.16,"y":24.5},{"series":"Performance/W","x":2003.16,"y":22.4},{"series":"Performance/W","x":2003.31,"y":20.4},{"series":"Performance/W","x":2007.05,"y":32.4},{"series":"Performance/W","x":2007.27,"y":28.8},{"series":"Performance/W","x":2008.06,"y":33.9},{"series":"Performance/W","x":2008.49,"y":33.1},{"series":"Performance/W","x":2007.7,"y":26.7},{"series":"Performance/W","x":2002.44,"y":22.4},{"series":"Performance/W","x":1999.71,"y":42.7},{"series":"Performance/W","x":2000.14,"y":39.8},{"series":"Performance/W","x":2000.14,"y":33.9},{"series":"Performance/W","x":1999.13,"y":22.4},{"series":"Performance/W","x":2001.36,"y":25.1},{"series":"Performance/W","x":2001.43,"y":20.9}
]},
"encoding":{
"x":{"field":"x","type":"quantitative","title":"dates","scale":{"domain":[1970.28,2012.6],"nice":false,"zero":false},
 "axis":{"values":[1980,1990,2000,2010],"format":"d","grid":false,"domain":false,"tickSize":20,"tickWidth":1.5,"tickColor":"black","labelFont":"Liberation Sans","labelFontSize":30.5,"labelColor":"black","labelBaseline":"alphabetic","labelPadding":49.7,"labelFlush":false,"labelOverlap":false,"titleFont":"Liberation Sans","titleFontSize":30.5,"titleFontWeight":"normal","titleColor":"black","titleX":553,"titleY":143,"titleBaseline":"alphabetic","titleAlign":"center"}},
"y":{"field":"y","type":"quantitative","title":"Relative scaling","scale":{"type":"log","domain":[0.579,1266000],"nice":false},
 "axis":{"values":[1,100,10000,1000000],"labelExpr":"datum.value == 1 ? '1e+00' : datum.value == 100 ? '1e+02' : datum.value == 10000 ? '1e+04' : '1e+06'","grid":false,"domain":false,"tickSize":20,"tickWidth":1.5,"tickColor":"black","labelFont":"Liberation Sans","labelFontSize":30.5,"labelColor":"black","labelAngle":270,"labelAlign":"center","labelBaseline":"alphabetic","labelPadding":27,"labelFlush":false,"labelOverlap":false,"titleFont":"Liberation Sans","titleFontSize":30.5,"titleFontWeight":"normal","titleColor":"black","titleAngle":270,"titleX":-123.5,"titleY":495,"titleBaseline":"alphabetic","titleAlign":"center"}}
},
"layer":[
{"data":{"name":"points"},
 "mark":{"type":"point","filled":true,"opacity":1,"strokeWidth":0},
 "encoding":{
  "color":{"field":"series","type":"nominal","scale":{"domain":["Transistors","Clock","Power","Performance","Performance/W"],"range":["#000000","#ff0000","#00cd00","#0000ff","#00ffff"]},
   "legend":{"title":null,"orient":"none","legendX":124,"legendY":17,"strokeColor":"black","fillColor":"white","padding":21.5,"labelFont":"Liberation Sans","labelFontSize":30.5,"labelColor":"black","labelOffset":14,"symbolOffset":-8,"rowPadding":8,"labelLimit":400,"symbolOpacity":1,"symbolStrokeWidth":0,
    "encode":{"symbols":{"update":{"size":{"signal":"datum.value === 'Power' ? 256 : datum.value === 'Transistors' ? 114 : 60"}}}}}},
  "shape":{"field":"series","type":"nominal","scale":{"domain":["Transistors","Clock","Power","Performance","Performance/W"],"range":["square","circle","triangle-up","circle","circle"]}},
  "size":{"condition":[{"test":"datum.series === 'Power'","value":225},{"test":"datum.series === 'Transistors'","value":121},{"test":"datum.series === 'Clock'","value":78}],"value":92}
 }},
{"data":{"name":"moore"},"mark":{"type":"line","color":"black","strokeWidth":8.5,"strokeCap":"butt","clip":false},"encoding":{}},
{"data":{"name":"clockline"},"mark":{"type":"line","color":"#ff2400","strokeWidth":8.5,"strokeCap":"butt","strokeJoin":"miter","clip":false},"encoding":{}},
{"data":{"name":"notes"},"mark":{"type":"text","font":"Lato","fontSize":44,"align":"center","baseline":"alphabetic","color":"black","clip":false},"encoding":{"text":{"field":"label","type":"nominal"}}}
]
}
